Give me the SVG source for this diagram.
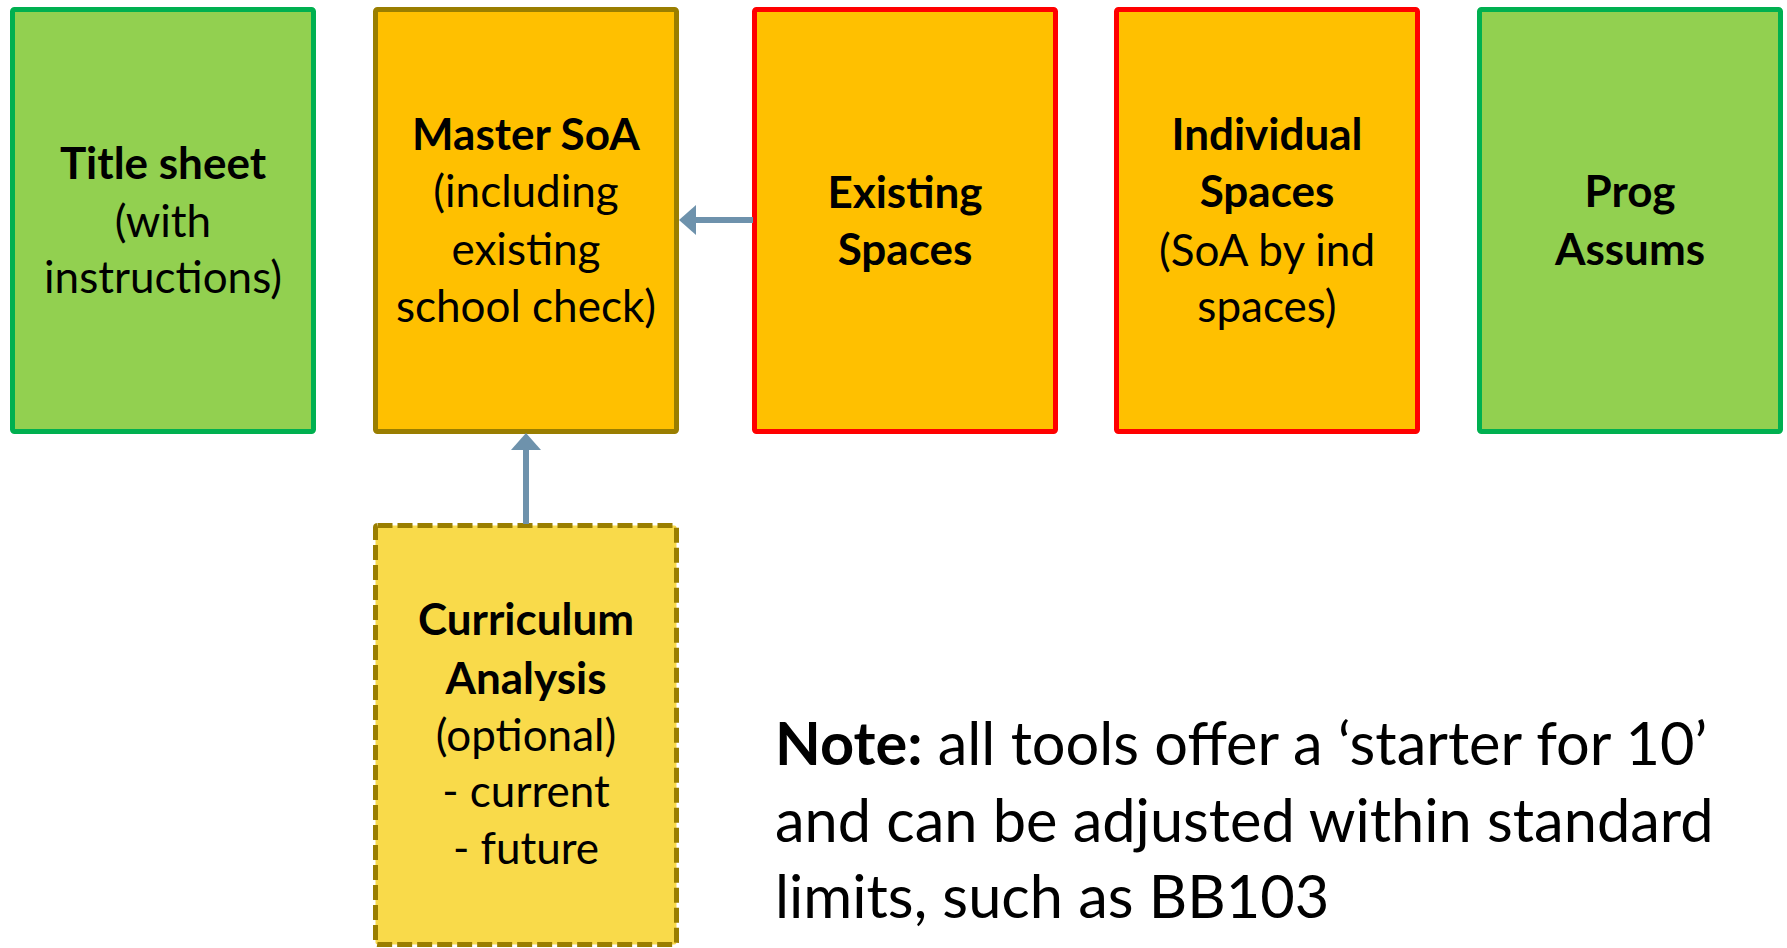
<svg xmlns="http://www.w3.org/2000/svg" width="1787" height="948" viewBox="0 0 1787 948">
<style>
.box{stroke-width:5}
.green{fill:#92D050;stroke:#00B050}
.orange{fill:#FFC000}
.olive{stroke:#9A7E00}
.red{stroke:#FF0000}
.dash{fill:#F9DA4A;stroke:#9A7E00;stroke-dasharray:15 5}
text{font-family:Lato,"Open Sans","Liberation Sans",sans-serif;font-size:44px;fill:#000;text-anchor:middle}
.b{font-weight:bold}
.note{font-size:59.5px;text-anchor:start}
.conn{stroke:#6E92AC;stroke-width:6;fill:none}
</style>
<defs>
<marker id="arr" markerUnits="userSpaceOnUse" markerWidth="18" markerHeight="30" refX="0" refY="15" orient="auto">
<path d="M0,0 L17,15 L0,30 Z" fill="#6E92AC"/>
</marker>
</defs>
<g id="title-sheet">
<rect class="box green" x="12.5" y="9.5" width="301" height="422" rx="2"/>
<text x="163" y="179" class="b">Title sheet</text>
<text x="163" y="237">(with</text>
<text x="163" y="293">instructions)</text>
</g>
<g id="master-soa">
<rect class="box orange olive" x="375.5" y="9.5" width="301" height="422" rx="2"/>
<text x="526" y="150" class="b">Master SoA</text>
<text x="526" y="207">(including</text>
<text x="526" y="265">existing</text>
<text x="526" y="322">school check)</text>
</g>
<g id="existing-spaces">
<rect class="box orange red" x="754.5" y="9.5" width="301" height="422" rx="2"/>
<text x="905" y="208" class="b">Existing</text>
<text x="905" y="265" class="b">Spaces</text>
</g>
<g id="individual-spaces">
<rect class="box orange red" x="1116.5" y="9.5" width="301" height="422" rx="2"/>
<text x="1267" y="150" class="b">Individual</text>
<text x="1267" y="207" class="b">Spaces</text>
<text x="1267" y="266">(SoA by ind</text>
<text x="1267" y="322">spaces)</text>
</g>
<g id="prog-assums">
<rect class="box green" x="1479.5" y="9.5" width="301" height="422" rx="2"/>
<text x="1630" y="207" class="b">Prog</text>
<text x="1630" y="265" class="b">Assums</text>
</g>
<g id="curriculum-analysis">
<rect class="box dash" x="375.5" y="525.5" width="301" height="419" rx="2"/>
<text x="526" y="635" class="b">Curriculum</text>
<text x="526" y="694" class="b">Analysis</text>
<text x="526" y="751">(optional)</text>
<text x="526" y="807">- current</text>
<text x="526" y="864">- future</text>
</g>
<g id="note">
<text class="note" x="775" y="765"><tspan class="b">Note:</tspan> all tools offer a ‘starter for 10’</text>
<text class="note" x="775" y="842">and can be adjusted within standard</text>
<text class="note" x="775" y="918">limits, such as BB103</text>
</g>
<g id="connectors">
<line class="conn" x1="753" y1="220" x2="696" y2="220" marker-end="url(#arr)"/>
<line class="conn" x1="526" y1="524" x2="526" y2="450" marker-end="url(#arr)"/>
</g>
</svg>
